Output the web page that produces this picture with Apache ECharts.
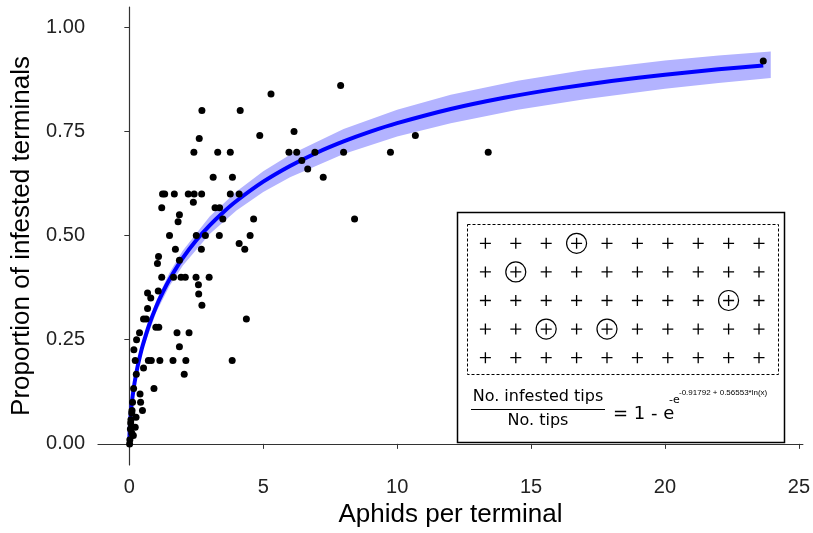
<!DOCTYPE html>
<html>
<head>
<meta charset="utf-8">
<title>Aphids per terminal</title>
<script src="https://cdn.jsdelivr.net/npm/echarts@6/dist/echarts.min.js"></script>
<style>
  * { margin: 0; padding: 0; }
  #main { width: 813px; height: 533px; background: #fff; }
</style>
</head>
<body>
<div id="main"></div>
<script>
// observed points: [aphids per terminal, proportion infested]
var points = [
  [23.67, 0.919], [7.89, 0.86], [5.29, 0.84], [2.71, 0.80], [4.14, 0.80],
  [4.87, 0.74], [6.15, 0.75], [10.68, 0.74], [2.61, 0.733],
  [2.41, 0.70], [3.30, 0.70], [3.77, 0.70], [5.96, 0.70], [6.25, 0.70], [6.93, 0.70],
  [8.0, 0.70], [9.75, 0.70], [13.4, 0.70],
  [6.44, 0.68], [6.66, 0.66], [7.24, 0.64], [3.13, 0.64], [3.85, 0.64], [8.41, 0.54],
  [1.24, 0.60], [1.32, 0.60], [1.68, 0.60], [2.20, 0.60], [2.42, 0.60], [2.70, 0.60],
  [3.77, 0.60], [4.10, 0.60],
  [2.39, 0.58], [1.21, 0.567], [3.20, 0.567], [3.37, 0.567],
  [1.87, 0.55], [1.82, 0.533], [3.49, 0.54], [4.64, 0.54],
  [1.50, 0.50], [2.50, 0.50], [2.84, 0.50], [3.36, 0.50], [4.51, 0.50],
  [4.10, 0.481], [4.31, 0.467], [1.72, 0.467], [2.69, 0.467],
  [1.09, 0.45], [1.05, 0.433], [1.87, 0.441],
  [1.21, 0.40], [1.65, 0.40], [1.93, 0.40], [2.09, 0.40], [2.49, 0.40], [2.98, 0.40],
  [2.58, 0.382], [2.59, 0.36], [2.71, 0.333],
  [0.68, 0.362], [0.80, 0.35], [1.08, 0.367], [0.68, 0.325],
  [0.53, 0.30], [0.63, 0.30], [4.37, 0.30],
  [0.99, 0.28], [1.10, 0.28],
  [0.38, 0.267], [1.78, 0.267], [2.23, 0.267],
  [0.27, 0.25], [1.87, 0.233], [0.17, 0.226],
  [0.22, 0.20], [0.71, 0.20], [0.82, 0.20], [1.14, 0.20], [1.63, 0.20], [2.11, 0.20], [3.84, 0.20],
  [0.53, 0.182], [0.26, 0.167], [2.05, 0.167],
  [0.92, 0.133], [0.16, 0.133], [0.40, 0.12],
  [0.12, 0.10], [0.42, 0.10], [0.49, 0.08], [0.09, 0.074], [0.10, 0.08], [0.25, 0.064],
  [0.06, 0.058], [0.22, 0.04], [0.04, 0.036], [0.09, 0.026], [0.15, 0.02],
  [0.02, 0.01], [0.05, 0.05], [0.01, 0.0]
];

// fitted curve
var fitX = [0, 0.005, 0.01, 0.02, 0.03, 0.05, 0.075, 0.1, 0.15, 0.2, 0.3, 0.4, 0.5, 0.75, 1,
  1.25, 1.5, 2, 2.5, 3, 3.5, 4, 5, 6, 7, 8, 9, 10, 12, 14, 16, 18, 20, 22, 23.67];
var fitY = [0, 0.0198, 0.0291, 0.0428, 0.0535, 0.0708, 0.0882, 0.1029, 0.1277, 0.1485, 0.1830,
  0.2117, 0.2365, 0.2878, 0.3292, 0.3643, 0.3948, 0.4462, 0.4886, 0.5245, 0.5556, 0.5830,
  0.6293, 0.6671, 0.6989, 0.7259, 0.7493, 0.7697, 0.8037, 0.8307, 0.8527, 0.8710, 0.8862,
  0.8991, 0.9083];

// confidence band
var bandX = [0, 0.1, 0.25, 0.5, 1, 1.5, 2, 3, 4, 5, 6, 8, 10, 12, 14.5, 17, 20, 22, 23.95];
var bandLo = [0, 0.0969, 0.1577, 0.2255, 0.3152, 0.3788, 0.4282, 0.5035, 0.5600, 0.6043,
  0.6401, 0.6959, 0.7377, 0.7697, 0.8017, 0.8273, 0.8522, 0.8661, 0.8779];
var bandHi = [0, 0.1089, 0.1757, 0.2475, 0.3432, 0.4108, 0.4642, 0.5455, 0.6060, 0.6543,
  0.6941, 0.7559, 0.8017, 0.8377, 0.8717, 0.8973, 0.9202, 0.9321, 0.9419];

var xTicks = [0, 5, 10, 15, 20, 25];
var yTicks = [0, 0.25, 0.5, 0.75, 1];

// inset sketch: 10 x 5 tips, some of them circled (infested)
var insetCols = 10;
var insetRows = 5;
var circled = [[3, 0], [1, 1], [8, 2], [2, 3], [4, 3]];

var tips = [];
for (var r = 0; r < insetRows; r++) {
  for (var c = 0; c < insetCols; c++) tips.push([c, r]);
}

var fitData = fitX.map(function (x, i) { return [x, fitY[i]]; });

var chart = echarts.init(document.getElementById('main'));
var axisFont = 'Liberation Sans, Arial, sans-serif';

var option = {
  backgroundColor: '#fff',
  animation: false,
  grid: [
    { left: 98, right: 6, top: 7, bottom: 64 },
    { left: 467, top: 224, width: 311, height: 151 }
  ],
  xAxis: [{
    type: 'value', gridIndex: 0, min: -1.17, max: 25.15,
    name: 'Aphids per terminal', nameLocation: 'middle', nameGap: 37,
    nameTextStyle: { fontSize: 26, color: '#000', fontFamily: axisFont },
    axisLine: { lineStyle: { color: '#333', width: 1.2 } },
    axisTick: { show: true, length: 5, customValues: xTicks, lineStyle: { color: '#333' } },
    axisLabel: { customValues: xTicks, fontSize: 20, color: '#222', fontFamily: axisFont, margin: 12 },
    splitLine: { show: false }
  }, {
    type: 'value', gridIndex: 1, min: -0.605, max: 9.625, show: false
  }],
  yAxis: [{
    type: 'value', gridIndex: 0, min: -0.0507, max: 1.0486,
    name: 'Proportion of infested terminals', nameLocation: 'middle', nameGap: 56,
    nameTextStyle: { fontSize: 26, color: '#000', fontFamily: axisFont },
    axisLine: { show: true, lineStyle: { color: '#333', width: 1.2 } },
    axisTick: { show: true, length: 5, customValues: yTicks, lineStyle: { color: '#333' } },
    axisLabel: {
      customValues: yTicks, fontSize: 20, color: '#222', fontFamily: axisFont, margin: 13,
      formatter: function (v) { return v.toFixed(2); }
    },
    splitLine: { show: false }
  }, {
    type: 'value', gridIndex: 1, min: -0.675, max: 4.605, inverse: true, show: false
  }],
  series: [
    {
      // ribbon drawn as one polygon
      type: 'custom', xAxisIndex: 0, yAxisIndex: 0, z: 1,
      data: [0],
      renderItem: function (params, api) {
        var pts = [];
        for (var i = 0; i < bandX.length; i++) pts.push(api.coord([bandX[i], bandHi[i]]));
        for (var j = bandX.length - 1; j >= 0; j--) pts.push(api.coord([bandX[j], bandLo[j]]));
        return { type: 'polygon', shape: { points: pts }, style: { fill: '#b3b3ff' } };
      }
    },
    {
      type: 'line', xAxisIndex: 0, yAxisIndex: 0, z: 2,
      data: fitData, showSymbol: false, smooth: 0.2,
      lineStyle: { color: '#0000ff', width: 4 }
    },
    {
      type: 'scatter', xAxisIndex: 0, yAxisIndex: 0, z: 3,
      data: points, symbolSize: 7,
      itemStyle: { color: '#000', opacity: 1 }
    },
    {
      type: 'scatter', xAxisIndex: 1, yAxisIndex: 1, z: 3,
      data: tips, symbolSize: 11,
      symbol: 'path://M4.4,0h1.2v10h-1.2z M0,4.4h10v1.2h-10z',
      itemStyle: { color: '#000', opacity: 1 }
    },
    {
      type: 'scatter', xAxisIndex: 1, yAxisIndex: 1, z: 3,
      data: circled, symbolSize: 20, symbol: 'circle',
      itemStyle: { color: 'rgba(0,0,0,0)', borderColor: '#000', borderWidth: 1.2, opacity: 1 }
    }
  ],
  graphic: [
    { type: 'rect', shape: { x: 457.5, y: 212.5, width: 327, height: 230 },
      style: { fill: 'rgba(0,0,0,0)', stroke: '#000', lineWidth: 1.5 } },
    { type: 'rect', shape: { x: 467.5, y: 224.5, width: 311, height: 150 },
      style: { fill: 'rgba(0,0,0,0)', stroke: '#000', lineWidth: 1, lineDash: [3, 2] } },
    { type: 'text', x: 538, y: 397,
      style: { text: 'No. infested tips', fontSize: 16, fontFamily: 'DejaVu Sans', fill: '#000',
        align: 'center', verticalAlign: 'middle' } },
    { type: 'line', shape: { x1: 471, y1: 409.5, x2: 605, y2: 409.5 },
      style: { stroke: '#000', lineWidth: 1 } },
    { type: 'text', x: 538, y: 421,
      style: { text: 'No. tips', fontSize: 16, fontFamily: 'DejaVu Sans', fill: '#000',
        align: 'center', verticalAlign: 'middle' } },
    { type: 'text', x: 613, y: 414,
      style: { text: '= 1 - e', fontSize: 18, fontFamily: 'DejaVu Sans', fill: '#000',
        align: 'left', verticalAlign: 'middle' } },
    { type: 'text', x: 669, y: 400,
      style: { text: '-e', fontSize: 11, fontFamily: 'DejaVu Sans', fill: '#000',
        align: 'left', verticalAlign: 'middle' } },
    { type: 'text', x: 679, y: 393,
      style: { text: '-0.91792 + 0.56553*ln(x)', fontSize: 8, fontFamily: 'Liberation Sans', fill: '#000',
        align: 'left', verticalAlign: 'middle' } }
  ]
};

chart.setOption(option);
</script>
</body>
</html>
